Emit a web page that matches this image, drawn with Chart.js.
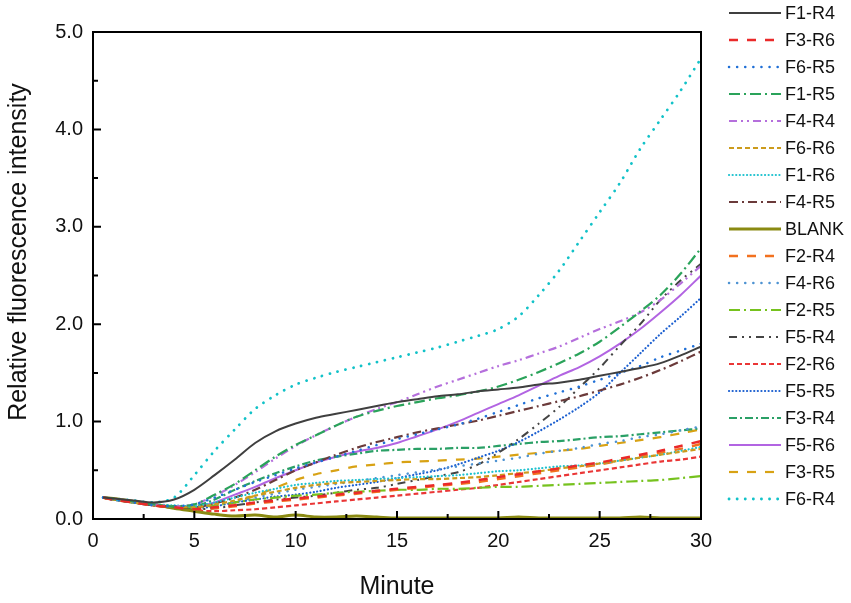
<!DOCTYPE html>
<html>
<head>
<meta charset="utf-8">
<script src="https://cdn.jsdelivr.net/npm/chart.js@4.4.1/dist/chart.umd.min.js"></script>
<style>
  html, body { margin: 0; padding: 0; background: #fff; }
  #wrap { width: 851px; height: 603px; }
</style>
</head>
<body>
<div id="wrap"><canvas id="chart"></canvas></div>
<script>
// minutes sampled
const minutes = [0.5, 1, 2, 3, 4, 5, 6, 7, 8, 9, 10, 11, 12, 13, 14, 15, 16, 17, 18, 19, 20,
  21, 22, 23, 24, 25, 26, 27, 28, 29, 30];

const seriesNames = ['F1-R4', 'F3-R6', 'F6-R5', 'F1-R5', 'F4-R4', 'F6-R6', 'F1-R6', 'F4-R5', 'BLANK', 'F2-R4',
  'F4-R6', 'F2-R5', 'F5-R4', 'F2-R6', 'F5-R5', 'F3-R4', 'F5-R6', 'F3-R5', 'F6-R4'];

const f1r4 = [0.22, 0.21, 0.19, 0.17, 0.2, 0.3, 0.45, 0.61, 0.78, 0.9, 0.98,
  1.04, 1.08, 1.12, 1.16, 1.2, 1.23, 1.26, 1.28, 1.31, 1.33,
  1.35, 1.38, 1.4, 1.43, 1.47, 1.51, 1.55, 1.6, 1.68, 1.77];
const f3r6 = [0.22, 0.2, 0.17, 0.14, 0.12, 0.1, 0.12, 0.14, 0.17, 0.19, 0.21,
  0.23, 0.25, 0.27, 0.29, 0.31, 0.33, 0.35, 0.37, 0.4, 0.43,
  0.46, 0.49, 0.52, 0.55, 0.58, 0.62, 0.66, 0.7, 0.75, 0.8];
const f6r5 = [0.22, 0.2, 0.17, 0.14, 0.13, 0.15, 0.22, 0.3, 0.38, 0.45, 0.52,
  0.58, 0.64, 0.7, 0.76, 0.82, 0.87, 0.92, 0.97, 1.03, 1.1,
  1.17, 1.24, 1.3, 1.36, 1.43, 1.5, 1.57, 1.66, 1.73, 1.8];
const f1r5 = [0.22, 0.21, 0.18, 0.15, 0.13, 0.15, 0.25, 0.36, 0.5, 0.64, 0.76,
  0.86, 0.96, 1.05, 1.11, 1.16, 1.2, 1.24, 1.27, 1.31, 1.36,
  1.43, 1.51, 1.6, 1.7, 1.82, 1.97, 2.13, 2.3, 2.52, 2.78];
const f4r4 = [0.22, 0.21, 0.18, 0.15, 0.13, 0.15, 0.24, 0.35, 0.48, 0.62, 0.75,
  0.86, 0.96, 1.05, 1.13, 1.2, 1.28, 1.36, 1.43, 1.5, 1.57,
  1.63, 1.7, 1.77, 1.86, 1.95, 2.03, 2.12, 2.25, 2.42, 2.6];
const f6r6 = [0.22, 0.2, 0.17, 0.14, 0.13, 0.12, 0.15, 0.19, 0.24, 0.28, 0.32,
  0.35, 0.37, 0.38, 0.39, 0.4, 0.41, 0.41, 0.42, 0.43, 0.45,
  0.47, 0.49, 0.52, 0.54, 0.57, 0.6, 0.63, 0.66, 0.69, 0.72];
const f1r6 = [0.22, 0.2, 0.17, 0.15, 0.14, 0.13, 0.17, 0.22, 0.27, 0.31, 0.35,
  0.37, 0.39, 0.4, 0.41, 0.42, 0.43, 0.44, 0.45, 0.47, 0.49,
  0.5, 0.52, 0.54, 0.55, 0.57, 0.6, 0.63, 0.66, 0.7, 0.74];
const f4r5 = [0.22, 0.2, 0.17, 0.14, 0.13, 0.12, 0.16, 0.22, 0.3, 0.4, 0.5,
  0.58, 0.66, 0.73, 0.79, 0.84, 0.89, 0.93, 0.97, 1.01, 1.06,
  1.11, 1.16, 1.21, 1.26, 1.32, 1.38, 1.45, 1.53, 1.62, 1.72];
const blank = [0.22, 0.21, 0.18, 0.15, 0.11, 0.08, 0.05, 0.03, 0.04, 0.02, 0.04,
  0.02, 0.02, 0.03, 0.02, 0.01, 0.01, 0.01, 0.01, 0.01, 0.01,
  0.02, 0.01, 0.01, 0.01, 0.01, 0.01, 0.02, 0.01, 0.01, 0.01];
const f2r4 = [0.22, 0.2, 0.17, 0.14, 0.12, 0.1, 0.11, 0.13, 0.16, 0.18, 0.2,
  0.22, 0.24, 0.26, 0.28, 0.3, 0.32, 0.34, 0.36, 0.38, 0.41,
  0.44, 0.47, 0.5, 0.53, 0.56, 0.6, 0.64, 0.68, 0.72, 0.77];
const f4r6 = [0.22, 0.2, 0.17, 0.14, 0.13, 0.12, 0.15, 0.18, 0.22, 0.26, 0.3,
  0.33, 0.36, 0.39, 0.42, 0.45, 0.48, 0.51, 0.54, 0.57, 0.6,
  0.63, 0.67, 0.7, 0.73, 0.77, 0.8, 0.84, 0.87, 0.91, 0.95];
const f2r5 = [0.22, 0.2, 0.17, 0.15, 0.13, 0.12, 0.14, 0.17, 0.2, 0.22, 0.24,
  0.25, 0.27, 0.28, 0.29, 0.3, 0.3, 0.31, 0.31, 0.32, 0.33,
  0.33, 0.34, 0.35, 0.36, 0.37, 0.38, 0.39, 0.4, 0.42, 0.44];
const f5r4 = [0.22, 0.2, 0.17, 0.14, 0.12, 0.1, 0.11, 0.14, 0.17, 0.2, 0.22,
  0.24, 0.27, 0.3, 0.32, 0.36, 0.4, 0.44, 0.48, 0.56, 0.68,
  0.82, 0.98, 1.15, 1.35, 1.55, 1.78, 2.0, 2.25, 2.45, 2.62];
const f2r6 = [0.22, 0.2, 0.17, 0.14, 0.11, 0.09, 0.08, 0.09, 0.1, 0.12, 0.14,
  0.16, 0.18, 0.2, 0.22, 0.24, 0.26, 0.28, 0.3, 0.32, 0.35,
  0.38, 0.41, 0.44, 0.47, 0.5, 0.53, 0.56, 0.59, 0.61, 0.64];
const f5r5 = [0.22, 0.2, 0.17, 0.14, 0.12, 0.11, 0.13, 0.17, 0.2, 0.23, 0.25,
  0.28, 0.32, 0.35, 0.38, 0.42, 0.46, 0.5, 0.56, 0.63, 0.7,
  0.79, 0.9, 1.02, 1.15, 1.3, 1.5, 1.7, 1.9, 2.08, 2.27];
const f3r4 = [0.22, 0.2, 0.17, 0.15, 0.13, 0.13, 0.2, 0.3, 0.39, 0.47, 0.54,
  0.6, 0.64, 0.67, 0.7, 0.71, 0.72, 0.72, 0.73, 0.73, 0.75,
  0.77, 0.79, 0.8, 0.82, 0.84, 0.85, 0.87, 0.89, 0.91, 0.93];
const f5r6 = [0.22, 0.2, 0.17, 0.14, 0.13, 0.12, 0.17, 0.25, 0.33, 0.42, 0.5,
  0.58, 0.64, 0.69, 0.73, 0.78, 0.85, 0.92, 1.0, 1.09, 1.18,
  1.27, 1.37, 1.47, 1.56, 1.67, 1.8, 1.95, 2.12, 2.3, 2.5];
const f3r5 = [0.22, 0.2, 0.17, 0.14, 0.12, 0.1, 0.12, 0.17, 0.24, 0.32, 0.4,
  0.46, 0.5, 0.54, 0.56, 0.58, 0.59, 0.6, 0.61, 0.62, 0.64,
  0.66, 0.68, 0.7, 0.72, 0.75, 0.78, 0.81, 0.84, 0.88, 0.92];
const f6r4 = [0.22, 0.21, 0.19, 0.17, 0.22, 0.45, 0.7, 0.92, 1.13, 1.27, 1.38,
  1.45, 1.51, 1.56, 1.61, 1.66, 1.71, 1.76, 1.82, 1.88, 1.95,
  2.08, 2.3, 2.55, 2.85, 3.15, 3.45, 3.8, 4.1, 4.4, 4.73];

const xTicks = [0, 5, 10, 15, 20, 25, 30];
const yTicks = [0, 1, 2, 3, 4, 5];

const seriesValues = [f1r4, f3r6, f6r5, f1r5, f4r4, f6r6, f1r6, f4r5, blank, f2r4,
  f4r6, f2r5, f5r4, f2r6, f5r5, f3r4, f5r6, f3r5, f6r4];

// colour, dash, cap, width per series
const styles = [
  ['#3f3f3f', [], 'butt', 2],
  ['#ea2a2a', [9, 9], 'butt', 2.5],
  ['#1f6fd6', [0.1, 8], 'round', 2.5],
  ['#2aa35a', [11, 4, 2, 4], 'butt', 2.2],
  ['#b56fdc', [8, 4, 2, 4, 2, 4], 'butt', 2.2],
  ['#cc9b1c', [5, 3], 'butt', 2.2],
  ['#1fc2cf', [0.1, 3.5], 'round', 2.2],
  ['#6b3a3a', [9, 4, 2, 4], 'butt', 2.2],
  ['#8a8a12', [], 'butt', 3],
  ['#f2711f', [9, 9], 'butt', 2.5],
  ['#4e93d2', [0.1, 8], 'round', 2.5],
  ['#76c21e', [11, 4, 2, 4], 'butt', 2.2],
  ['#444444', [8, 5, 2, 5, 2, 5], 'butt', 2],
  ['#ea3636', [5, 3], 'butt', 2.2],
  ['#1b5fd0', [0.1, 3.5], 'round', 2.2],
  ['#2aa066', [8, 3, 2, 3], 'butt', 2.2],
  ['#b264e2', [], 'butt', 2],
  ['#d8a214', [9, 9], 'butt', 2.2],
  ['#12c2c8', [0.1, 8], 'round', 2.8]
];

const FONT = '"Liberation Sans", Arial, sans-serif';
const Y_TITLE = 'Relative fluorescence intensity';

const datasets = seriesNames.map((name, i) => ({
  label: name,
  data: minutes.map((m, j) => ({ x: m, y: seriesValues[i][j] })),
  borderColor: styles[i][0],
  borderDash: styles[i][1],
  borderCapStyle: styles[i][2],
  borderWidth: styles[i][3],
  pointRadius: 0,
  tension: 0.3,
  fill: false
}));

// frame with inward major and minor ticks, plus the y title
const frameTicks = {
  id: 'frameTicks',
  afterDraw(chart) {
    const { ctx, chartArea: a } = chart;
    const xs = chart.scales.x;
    const ys = chart.scales.y;
    ctx.save();
    ctx.strokeStyle = '#000';
    ctx.lineWidth = 2;
    ctx.setLineDash([]);
    ctx.strokeRect(a.left, a.top, a.right - a.left, a.bottom - a.top);
    ctx.beginPath();
    for (let v = 0; v <= 30; v += 2.5) {
      const px = xs.getPixelForValue(v);
      const len = v % 5 === 0 ? 8 : 5;
      ctx.moveTo(px, a.bottom);
      ctx.lineTo(px, a.bottom - len);
    }
    for (let v = 0; v <= 5; v += 0.5) {
      const py = ys.getPixelForValue(v);
      const len = v % 1 === 0 ? 8 : 5;
      ctx.moveTo(a.left, py);
      ctx.lineTo(a.left + len, py);
    }
    ctx.stroke();

    ctx.translate(19, 252);
    ctx.rotate(-Math.PI / 2);
    ctx.fillStyle = '#111';
    ctx.font = '25px ' + FONT;
    ctx.textAlign = 'center';
    ctx.textBaseline = 'middle';
    ctx.fillText(Y_TITLE, 0, 0);
    ctx.restore();
  }
};

// legend column on the right
const sideLegend = {
  id: 'sideLegend',
  afterDraw(chart) {
    const ctx = chart.ctx;
    ctx.save();
    chart.data.datasets.forEach((ds, i) => {
      const y = 13 + i * 27;
      ctx.strokeStyle = ds.borderColor;
      ctx.lineWidth = ds.borderWidth;
      ctx.lineCap = ds.borderCapStyle;
      ctx.setLineDash(ds.borderDash);
      ctx.beginPath();
      ctx.moveTo(729, y);
      ctx.lineTo(781, y);
      ctx.stroke();
      ctx.setLineDash([]);
      ctx.fillStyle = '#111';
      ctx.font = '18px ' + FONT;
      ctx.textBaseline = 'middle';
      ctx.fillText(ds.label, 785, y + 1);
    });
    ctx.restore();
  }
};

new Chart(document.getElementById('chart'), {
  type: 'line',
  data: { datasets },
  options: {
    responsive: true,
    maintainAspectRatio: false,
    animation: false,
    layout: { padding: { top: 32, right: 150, left: 0, bottom: 0 } },
    plugins: {
      legend: { display: false },
      tooltip: { enabled: false }
    },
    scales: {
      x: {
        type: 'linear',
        min: 0,
        max: 30,
        afterFit: s => { s.height = 84; },
        afterBuildTicks: s => { s.ticks = xTicks.map(v => ({ value: v })); },
        grid: { display: false, drawTicks: false },
        border: { display: false },
        ticks: {
          padding: 10,
          color: '#111',
          font: { family: FONT, size: 20 },
          callback: v => String(v)
        },
        title: {
          display: true,
          text: 'Minute',
          color: '#111',
          font: { family: FONT, size: 25 },
          padding: { top: 0, bottom: 1 }
        }
      },
      y: {
        min: 0,
        max: 5,
        afterFit: s => { s.width = 93; },
        afterBuildTicks: s => { s.ticks = yTicks.map(v => ({ value: v })); },
        grid: { display: false, drawTicks: false },
        border: { display: false },
        ticks: {
          padding: 10,
          color: '#111',
          font: { family: FONT, size: 20 },
          callback: v => v.toFixed(1)
        }
      }
    }
  },
  plugins: [frameTicks, sideLegend]
});
</script>
</body>
</html>
